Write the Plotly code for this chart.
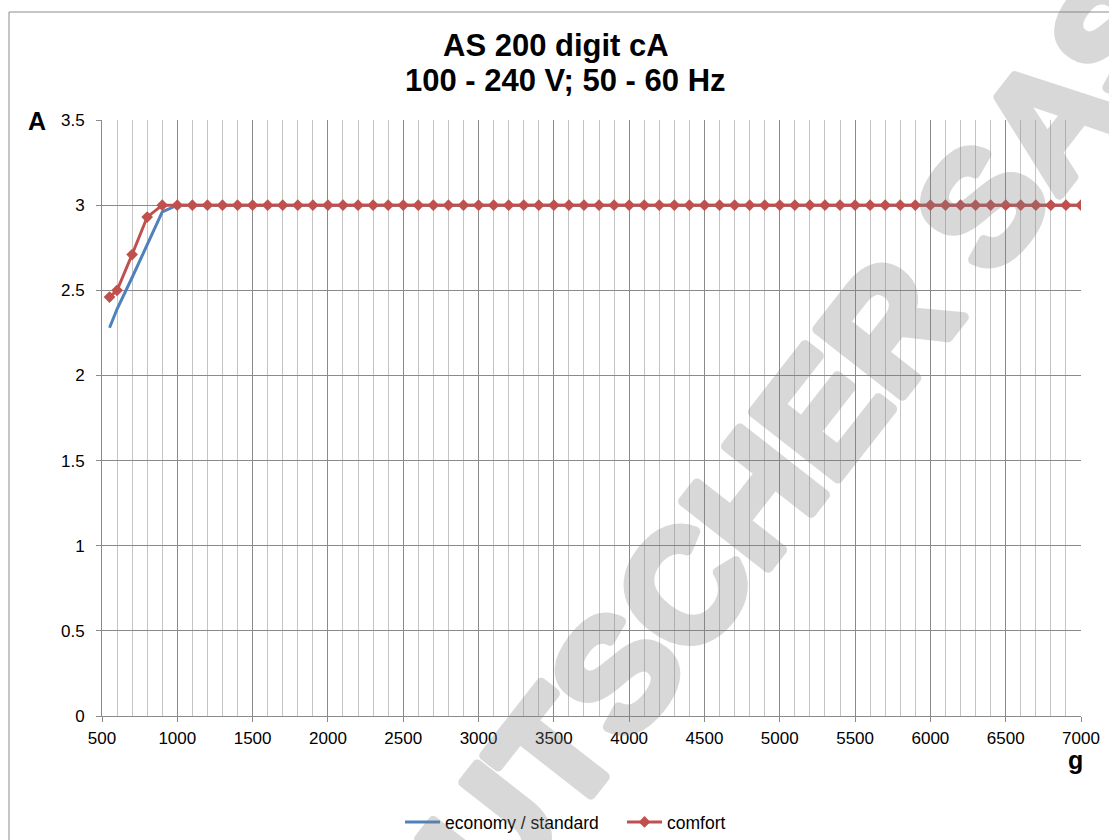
import plotly.graph_objects as go

# ---- data ----
weight_g = [550, 600, 700, 800, 900,
            1000, 1100, 1200, 1300, 1400, 1500, 1600, 1700, 1800, 1900,
            2000, 2100, 2200, 2300, 2400, 2500, 2600, 2700, 2800, 2900,
            3000, 3100, 3200, 3300, 3400, 3500, 3600, 3700, 3800, 3900,
            4000, 4100, 4200, 4300, 4400, 4500, 4600, 4700, 4800, 4900,
            5000, 5100, 5200, 5300, 5400, 5500, 5600, 5700, 5800, 5900,
            6000, 6100, 6200, 6300, 6400, 6500, 6600, 6700, 6800, 6900,
            7000]

economy_standard_A = [2.28, 2.39, 2.575, 2.77, 2.96,
                      3.0, 3.0, 3.0, 3.0, 3.0, 3.0, 3.0, 3.0, 3.0, 3.0,
                      3.0, 3.0, 3.0, 3.0, 3.0, 3.0, 3.0, 3.0, 3.0, 3.0,
                      3.0, 3.0, 3.0, 3.0, 3.0, 3.0, 3.0, 3.0, 3.0, 3.0,
                      3.0, 3.0, 3.0, 3.0, 3.0, 3.0, 3.0, 3.0, 3.0, 3.0,
                      3.0, 3.0, 3.0, 3.0, 3.0, 3.0, 3.0, 3.0, 3.0, 3.0,
                      3.0, 3.0, 3.0, 3.0, 3.0, 3.0, 3.0, 3.0, 3.0, 3.0,
                      3.0]

comfort_A = [2.46, 2.50, 2.71, 2.93, 3.0,
             3.0, 3.0, 3.0, 3.0, 3.0, 3.0, 3.0, 3.0, 3.0, 3.0,
             3.0, 3.0, 3.0, 3.0, 3.0, 3.0, 3.0, 3.0, 3.0, 3.0,
             3.0, 3.0, 3.0, 3.0, 3.0, 3.0, 3.0, 3.0, 3.0, 3.0,
             3.0, 3.0, 3.0, 3.0, 3.0, 3.0, 3.0, 3.0, 3.0, 3.0,
             3.0, 3.0, 3.0, 3.0, 3.0, 3.0, 3.0, 3.0, 3.0, 3.0,
             3.0, 3.0, 3.0, 3.0, 3.0, 3.0, 3.0, 3.0, 3.0, 3.0,
             3.0]

x_ticks = [500, 1000, 1500, 2000, 2500, 3000, 3500, 4000, 4500, 5000, 5500, 6000, 6500, 7000]
y_ticks = [0, 0.5, 1, 1.5, 2, 2.5, 3, 3.5]
y_tick_labels = ["0", "0.5", "1", "1.5", "2", "2.5", "3", "3.5"]

title_line1 = "AS 200 digit cA"
title_line2 = "100 - 240 V; 50 - 60 Hz"
watermark = "DEUTSCHER SAS"

# ---- figure ----
W, H = 1109, 840
ML, MR, MT, MB = 102, 28, 120, 124
PW, PH = W - ML - MR, H - MT - MB


def px(xp):
    return (xp - ML) / PW


def py(yp):
    return (H - MB - yp) / PH


FONT = "Liberation Sans, Arial, sans-serif"

fig = go.Figure()
fig.add_trace(go.Scatter(
    x=weight_g, y=economy_standard_A, name="economy / standard",
    mode="lines", line=dict(color="#4F81BD", width=3)))
fig.add_trace(go.Scatter(
    x=weight_g, y=comfort_A, name="comfort",
    mode="lines+markers", line=dict(color="#C0504D", width=3),
    marker=dict(symbol="diamond", size=9, color="#C0504D")))

fig.update_layout(
    width=W, height=H,
    margin=dict(l=ML, r=MR, t=MT, b=MB, pad=0, autoexpand=False),
    paper_bgcolor="white", plot_bgcolor="white",
    font=dict(family=FONT, size=17, color="#000000"),
    showlegend=True,
    legend=dict(orientation="h", x=px(400), y=py(822), xanchor="left", yanchor="middle",
                font=dict(family=FONT, size=17.5, color="#000000"),
                itemwidth=35, entrywidth=172, tracegroupgap=0, bgcolor="rgba(0,0,0,0)"),
)

fig.update_xaxes(
    range=[500, 7000], tickvals=x_ticks, ticktext=[str(v) for v in x_ticks],
    showgrid=True, gridcolor="#8a8a8a", gridwidth=1,
    minor=dict(dtick=100, tick0=500, showgrid=True, gridcolor="#c4c4c4", gridwidth=1,
               ticks=""),
    showline=True, linecolor="#8a8a8a", linewidth=1,
    ticks="outside", ticklen=5, tickcolor="#8a8a8a", ticklabelstandoff=2,
    tickfont=dict(family=FONT, size=17, color="#000000"),
    zeroline=False, fixedrange=True,
)
fig.update_yaxes(
    range=[0, 3.5], tickvals=y_ticks, ticktext=y_tick_labels,
    showgrid=True, gridcolor="#8a8a8a", gridwidth=1,
    showline=True, linecolor="#8a8a8a", linewidth=1,
    ticks="outside", ticklen=5, tickcolor="#8a8a8a", ticklabelstandoff=8,
    tickfont=dict(family=FONT, size=17, color="#000000"),
    zeroline=False, fixedrange=True,
)

# chart-area border
fig.add_shape(type="rect", xref="paper", yref="paper",
              x0=px(9), x1=px(1200), y0=py(900), y1=py(12),
              line=dict(color="#8c8c8c", width=1), fillcolor="rgba(0,0,0,0)", layer="below")

# title
fig.add_annotation(text="<b>%s</b>" % title_line1, xref="paper", yref="paper",
                   x=px(556), y=py(46), showarrow=False, xanchor="center", yanchor="middle",
                   font=dict(family=FONT, size=31, color="#000000"))
fig.add_annotation(text="<b>%s</b>" % title_line2, xref="paper", yref="paper",
                   x=px(565), y=py(80), showarrow=False, xanchor="center", yanchor="middle",
                   font=dict(family=FONT, size=31, color="#000000"))

# axis unit labels
fig.add_annotation(text="<b>A</b>", xref="paper", yref="paper", x=px(37), y=py(121),
                   showarrow=False, xanchor="center", yanchor="middle",
                   font=dict(family=FONT, size=25, color="#000000"))
fig.add_annotation(text="<b>g</b>", xref="paper", yref="paper", x=px(1075), y=py(760),
                   showarrow=False, xanchor="center", yanchor="middle",
                   font=dict(family=FONT, size=25, color="#000000"))

# watermark
fig.add_annotation(text="<b>%s</b>" % watermark, xref="paper", yref="paper",
                   x=px(734), y=py(522), showarrow=False, xanchor="center", yanchor="middle",
                   textangle=-52,
                   font=dict(family=FONT, size=157, color="rgba(128,128,128,0.3)"))

post_script = """
document.body.style.margin = '0px';
var gd = document.getElementById('{plot_id}');
gd.querySelectorAll('text.annotation-text').forEach(function (t) {
  if (t.textContent.indexOf('SCHER') >= 0) {
    t.style.fill = 'rgb(128,128,128)';
    t.style.fillOpacity = '1';
    t.style.stroke = 'rgb(128,128,128)';
    t.style.strokeWidth = '10px';
    t.style.strokeLinejoin = 'round';
    t.style.opacity = '0.3';
  }
});
"""

fig.write_html("out.html", post_script=post_script, config={"displayModeBar": False})
